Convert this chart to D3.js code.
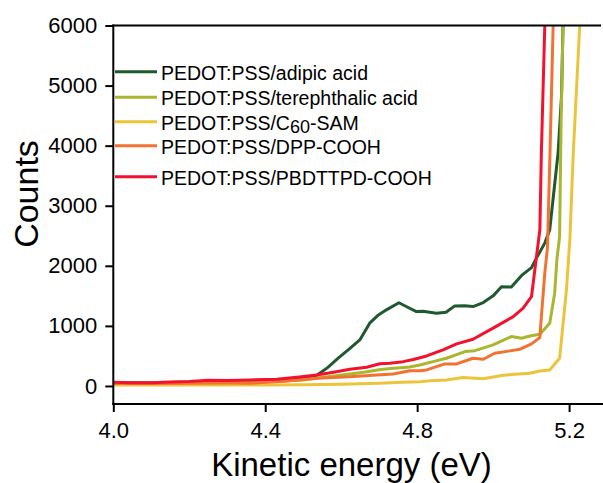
<!DOCTYPE html>
<html>
<head>
<meta charset="utf-8">
<script src="https://cdn.jsdelivr.net/npm/d3@7"></script>
<style>
  html, body { margin: 0; padding: 0; background: #fff; }
  svg { display: block; font-family: "Liberation Sans", Arial, sans-serif; }
</style>
</head>
<body>
<svg id="chart" width="603" height="483"></svg>
<script>
// ---- data ----
const xTicks = [4.0, 4.4, 4.8, 5.2];
const yTicks = [0, 1000, 2000, 3000, 4000, 5000, 6000];

const adipicE = [4.00,4.10,4.20,4.30,4.40,4.46,4.50,4.52,4.539,4.565,4.592,4.62,4.649,4.675,4.698,4.719,4.752,4.775,4.798,4.815,4.833,4.851,4.876,4.899,4.925,4.947,4.974,5.0,5.022,5.048,5.075,5.101,5.114,5.136,5.149,5.171,5.18,5.184];
const adipicC = [50,55,60,70,85,100,130,150,190,310,462,610,767,1045,1183,1267,1385,1310,1238,1245,1228,1212,1228,1333,1335,1322,1388,1500,1650,1648,1840,1970,2128,2378,2600,3878,4822,6000];

const terephE = [4.00,4.10,4.20,4.30,4.40,4.50,4.535,4.58,4.623,4.66,4.70,4.73,4.78,4.807,4.842,4.877,4.926,4.952,5.0,5.048,5.075,5.097,5.123,5.149,5.162,5.168,5.175,5.179,5.184];
const terephC = [40,45,50,55,70,100,128,165,200,230,270,290,315,350,405,462,572,588,683,822,795,833,861,1045,1545,2112,2488,4433,6000];

const c60E = [4.00,4.10,4.20,4.30,4.40,4.50,4.60,4.70,4.76,4.807,4.833,4.877,4.921,4.974,5.0,5.026,5.096,5.123,5.149,5.175,5.193,5.202,5.211,5.228];
const c60C = [15,15,15,15,17,20,30,45,60,70,85,100,140,120,150,180,212,250,265,460,1600,2433,3878,6000];

const dppE = [4.00,4.10,4.20,4.30,4.36,4.45,4.535,4.623,4.693,4.737,4.781,4.807,4.825,4.873,4.904,4.947,4.974,5.004,5.04,5.071,5.101,5.123,5.127,5.136,5.143,5.149,5.158];
const dppC = [40,40,45,50,45,80,128,155,183,200,255,255,267,367,367,462,445,545,580,612,700,805,1155,1878,2300,3700,6000];

const pbdE = [4.00,4.05,4.10,4.15,4.20,4.25,4.30,4.36,4.43,4.49,4.535,4.58,4.623,4.667,4.702,4.728,4.763,4.79,4.825,4.868,4.904,4.947,5.0,5.053,5.079,5.101,5.123,5.127,5.136];
const pbdC = [60,55,55,65,75,95,90,100,112,150,183,230,278,312,370,378,405,440,500,600,700,778,962,1155,1295,1488,2600,3883,6000];

const seriesNames = ["PEDOT:PSS/adipic acid", "PEDOT:PSS/terephthalic acid", "PEDOT:PSS/C60-SAM", "PEDOT:PSS/DPP-COOH", "PEDOT:PSS/PBDTTPD-COOH"];
const seriesColors = ["#1f5a2e", "#a8b630", "#ecc43a", "#f27232", "#f2122e"];

// ---- layout ----
const svg = d3.select("#chart");
const x = d3.scaleLinear().domain([4.0, 5.284]).range([113.3, 601]);
const y = d3.scaleLinear().domain([-300, 6000]).range([404, 25.5]);

svg.append("defs").append("clipPath").attr("id", "plot")
  .append("rect").attr("x", 113.3).attr("y", 25.5).attr("width", 490).attr("height", 378.5);

const series = [
  {name: seriesNames[0], color: seriesColors[0], E: adipicE, C: adipicC, w: 3},
  {name: seriesNames[1], color: seriesColors[1], E: terephE, C: terephC, w: 3},
  {name: seriesNames[2], color: seriesColors[2], E: c60E, C: c60C, w: 3},
  {name: seriesNames[3], color: seriesColors[3], E: dppE, C: dppC, w: 3},
  {name: seriesNames[4], color: seriesColors[4], E: pbdE, C: pbdC, w: 3}
];

const line = d3.line().x(d => x(d[0])).y(d => y(d[1]));
const g = svg.append("g").attr("clip-path", "url(#plot)");
series.forEach(s => {
  g.append("path")
    .datum(s.E.map((e, i) => [e, s.C[i]]))
    .attr("d", line)
    .attr("fill", "none")
    .attr("stroke", s.color)
    .attr("stroke-width", s.w)
    .attr("stroke-linejoin", "round");
});

// axes
const yAxis = d3.axisLeft(y).tickValues(yTicks).tickSize(8).tickSizeOuter(0).tickPadding(8).tickFormat(d3.format("d"));
const xAxis = d3.axisBottom(x).tickValues(xTicks).tickSize(8).tickSizeOuter(0).tickPadding(10).tickFormat(d3.format(".1f"));

const ya = svg.append("g").attr("transform", "translate(113.3,0)").call(yAxis);
const xa = svg.append("g").attr("transform", "translate(0,404)").call(xAxis);
[ya, xa].forEach(a => {
  a.selectAll(".domain").remove();
  a.selectAll("line").attr("stroke", "#000").attr("stroke-width", 2);
  a.selectAll("text").attr("font-size", 22).attr("fill", "#000")
    .attr("font-family", "'Liberation Sans', Arial, sans-serif");
});

// axis lines
svg.append("line").attr("x1", 113.3).attr("x2", 113.3).attr("y1", 24.5).attr("y2", 405)
  .attr("stroke", "#000").attr("stroke-width", 2);
svg.append("line").attr("x1", 112.3).attr("x2", 603).attr("y1", 404).attr("y2", 404)
  .attr("stroke", "#000").attr("stroke-width", 2);
svg.append("line").attr("x1", 112.3).attr("x2", 601).attr("y1", 25.5).attr("y2", 25.5)
  .attr("stroke", "#000").attr("stroke-width", 2);

// titles
svg.append("text").attr("transform", "translate(37.5,194) rotate(-90)")
  .attr("text-anchor", "middle").attr("font-size", 34).attr("fill", "#000").text("Counts");
svg.append("text").attr("x", 351.5).attr("y", 475.5)
  .attr("text-anchor", "middle").attr("font-size", 33).attr("fill", "#000").text("Kinetic energy (eV)");

// legend
const legendY = [71.7, 97.3, 121.7, 145.7, 176.7];
const lg = svg.append("g");
series.forEach((s, i) => {
  lg.append("line").attr("x1", 115).attr("x2", 157).attr("y1", legendY[i]).attr("y2", legendY[i])
    .attr("stroke", s.color).attr("stroke-width", 3);
  const t = lg.append("text").attr("x", 161).attr("y", legendY[i] + 8)
    .attr("font-size", 19.5).attr("fill", "#000");
  if (s.name.includes("C60")) {
    const parts = s.name.split("60");
    t.append("tspan").text(parts[0]);
    t.append("tspan").attr("dy", 3).attr("font-size", 18).text("60");
    t.append("tspan").attr("dy", -3).text(parts[1]);
  } else {
    t.text(s.name);
  }
});
</script>
</body>
</html>
